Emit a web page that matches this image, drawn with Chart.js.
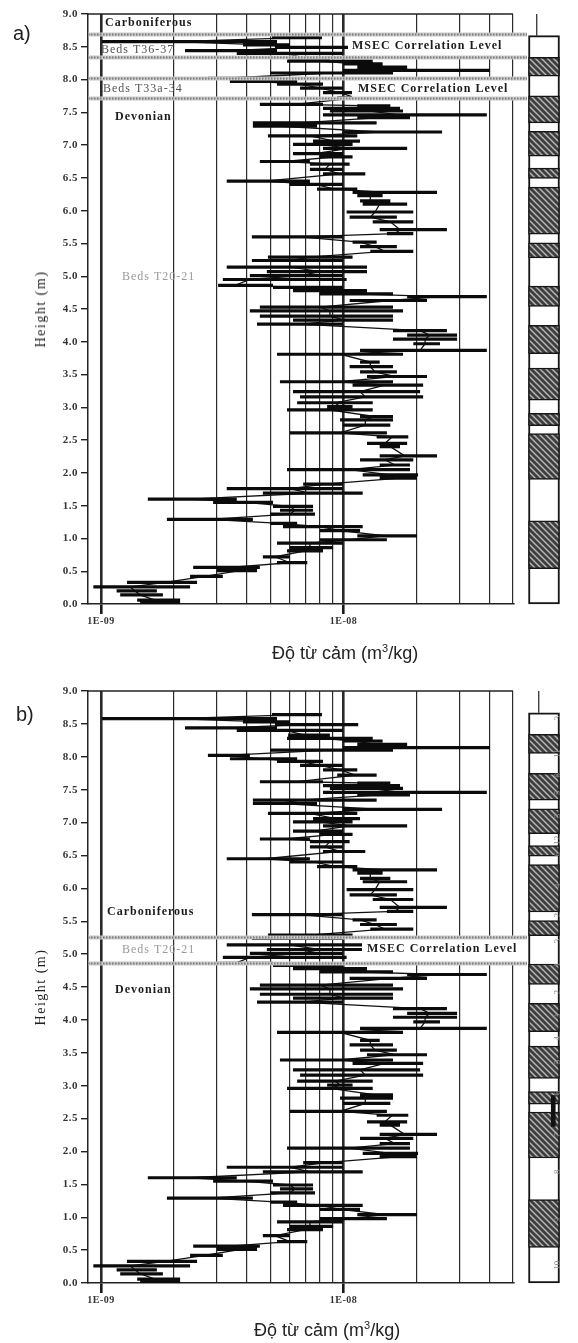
<!DOCTYPE html>
<html>
<head>
<meta charset="utf-8">
<script src="https://cdn.jsdelivr.net/npm/chart.js@4.4.0/dist/chart.umd.min.js"></script>
<style>
  html, body { margin: 0; padding: 0; background: #fff; }
  .panel { position: relative; width: 578px; overflow: hidden; }
  .panel canvas { position: absolute; top: 0; left: 0; }
  .tag { position: absolute; font: 20px "Liberation Sans", Arial, sans-serif; color: #222; line-height: 24px; }
  .ytitle { position: absolute; left: 41px; transform: translate(-50%, -50%) rotate(-90deg);
            white-space: nowrap; font: 14px "Liberation Serif", serif; letter-spacing: 1.5px; color: #222; }
  .xtitle { position: absolute; white-space: nowrap; font: 18px "Liberation Sans", Arial, sans-serif;
            line-height: 20px; color: #222; }
  .xtitle sup { font-size: 11px; }
</style>
</head>
<body>
<div class="panel" id="panelA" style="height:670px">
  <canvas id="mainA" width="578" height="670"></canvas>
  <canvas id="colA" width="65" height="670" style="left:513px"></canvas>
  <div class="tag" style="left:13px;top:21px">a)</div>
  <div class="ytitle" style="top:309px">Height (m)</div>
  <div class="xtitle" style="left:272px;top:638px">Độ từ cảm (m<sup>3</sup>/kg)</div>
</div>
<div class="panel" id="panelB" style="height:673px">
  <canvas id="mainB" width="578" height="673"></canvas>
  <canvas id="colB" width="65" height="673" style="left:513px"></canvas>
  <div class="tag" style="left:16px;top:32px">b)</div>
  <div class="ytitle" style="top:317px">Height (m)</div>
  <div class="xtitle" style="left:254px;top:645px">Độ từ cảm (m<sup>3</sup>/kg)</div>
</div>

<script>
// Magnetic susceptibility log, section height 0-9 m. Same record in both panels,
// panel a marks the upper correlation levels, panel b the T20-21 level.
// Susceptibility values are in units of 1E-09 m3/kg.

const heightM = [
  8.64, 8.58, 8.53, 8.49, 8.44, 8.40, 8.33, 8.28, 8.24, 8.19,
  8.14, 8.10, 8.02, 7.97, 7.93, 7.87, 7.80, 7.72, 7.62, 7.60,
  7.56, 7.52, 7.46, 7.42, 7.34, 7.29, 7.20, 7.14, 7.06, 7.01,
  6.95, 6.87, 6.82, 6.75, 6.71, 6.63, 6.56, 6.45, 6.40, 6.33,
  6.28, 6.23, 6.15, 6.10, 5.98, 5.90, 5.83, 5.71, 5.65, 5.60,
  5.52, 5.45, 5.38, 5.29, 5.24, 5.14, 5.07, 5.01, 4.95, 4.86,
  4.83, 4.78, 4.73, 4.69, 4.63, 4.53, 4.47, 4.39, 4.33, 4.27,
  4.17, 4.10, 4.04, 3.97, 3.87, 3.81, 3.69, 3.62, 3.54, 3.47,
  3.39, 3.34, 3.24, 3.16, 3.07, 3.01, 2.96, 2.86, 2.81, 2.73,
  2.61, 2.55, 2.45, 2.40, 2.26, 2.20, 2.12, 2.05, 1.97, 1.92,
  1.83, 1.76, 1.69, 1.60, 1.55, 1.49, 1.43, 1.37, 1.29, 1.23,
  1.18, 1.12, 1.04, 0.98, 0.93, 0.86, 0.81, 0.72, 0.63, 0.56,
  0.51, 0.42, 0.33, 0.26, 0.20, 0.14, 0.06, 0.01
];
const chiMid = [
  6.62, 2.02, 4.74, 6.62, 3.40, 5.74, 6.95, 8.00, 11.2, 13.5,
  20.7, 8.79, 3.25, 4.52, 6.62, 8.00, 9.68, 11.2, 6.31, 12.9,
  11.7, 12.9, 17.1, 14.1, 6.62, 5.47, 14.1, 7.27, 9.23, 8.00,
  10.6, 7.63, 9.23, 5.74, 8.79, 8.39, 9.68, 4.74, 7.63, 9.23,
  14.8, 12.9, 12.9, 14.1, 13.5, 12.9, 15.6, 17.1, 16.3, 6.62,
  11.7, 13.5, 14.8, 7.27, 6.01, 6.01, 8.00, 6.62, 4.11, 3.57,
  6.95, 8.79, 11.2, 25.0, 15.6, 8.00, 8.79, 8.79, 10.1, 6.62,
  20.7, 22.7, 21.7, 21.7, 20.7, 9.68, 12.9, 12.9, 13.5, 16.3,
  9.68, 14.8, 11.7, 12.3, 9.23, 9.68, 8.79, 13.5, 12.3, 12.3,
  9.68, 15.9, 14.8, 15.6, 17.9, 14.8, 16.3, 10.6, 15.6, 17.1,
  8.39, 6.01, 7.27, 2.33, 3.93, 6.01, 6.31, 6.01, 2.81, 5.47,
  8.00, 9.68, 14.8, 10.6, 7.27, 7.27, 6.95, 5.22, 6.01, 3.40,
  3.74, 2.68, 1.84, 1.32, 1.38, 1.45, 1.67, 1.75
];
const chiLow = [
  5.07, 1.01, 3.85, 5.22, 2.22, 3.63, 5.91, 5.85, 9.95, 11.4,
  9.95, 4.98, 2.76, 3.40, 5.32, 6.62, 8.23, 9.42, 4.52, 11.4,
  8.23, 8.79, 8.23, 11.4, 4.23, 4.23, 9.95, 4.88, 7.49, 6.19,
  8.23, 6.19, 8.00, 4.52, 7.27, 7.27, 8.23, 3.30, 6.01, 7.78,
  10.9, 11.4, 11.7, 12.0, 10.3, 10.6, 13.2, 14.1, 15.1, 4.19,
  10.9, 11.7, 12.9, 4.88, 4.19, 3.30, 4.83, 4.11, 3.18, 3.04,
  5.12, 6.19, 8.00, 18.3, 10.6, 4.52, 4.11, 4.52, 6.19, 4.40,
  16.0, 18.3, 16.0, 19.4, 11.7, 5.32, 11.7, 10.6, 11.7, 12.5,
  5.47, 10.9, 6.19, 6.62, 6.44, 8.56, 5.85, 11.7, 9.68, 9.95,
  6.01, 13.7, 12.5, 14.1, 14.1, 11.7, 14.1, 5.85, 12.0, 14.1,
  6.82, 3.30, 4.65, 1.56, 2.90, 5.12, 5.47, 4.98, 1.87, 4.98,
  5.63, 8.00, 11.4, 8.00, 5.32, 6.01, 5.85, 4.65, 5.32, 2.40,
  3.01, 2.33, 1.28, 0.93, 1.16, 1.20, 1.41, 1.45
];
const chiHigh = [
  8.15, 5.32, 6.01, 11.5, 5.32, 9.95, 8.79, 13.2, 14.5, 18.3,
  40.2, 16.0, 4.11, 6.44, 8.23, 9.95, 11.4, 13.7, 8.23, 15.6,
  17.1, 17.6, 39.0, 18.8, 13.7, 7.78, 25.5, 11.4, 11.7, 10.9,
  18.3, 9.95, 10.9, 7.27, 10.6, 9.95, 12.3, 7.27, 9.95, 11.4,
  24.3, 14.5, 15.6, 18.3, 19.4, 16.6, 19.4, 26.7, 19.4, 9.95,
  13.7, 16.6, 19.4, 10.9, 9.95, 12.5, 12.5, 9.95, 10.3, 5.12,
  9.95, 12.5, 16.0, 39.0, 22.1, 16.0, 17.6, 16.0, 16.0, 9.95,
  26.7, 29.4, 29.4, 25.0, 39.0, 17.6, 14.1, 16.0, 16.6, 22.1,
  16.0, 21.3, 20.7, 21.3, 13.2, 10.9, 13.2, 16.0, 16.0, 15.6,
  15.1, 18.5, 18.3, 17.1, 24.3, 19.4, 18.8, 18.8, 20.3, 20.1,
  9.95, 9.95, 12.0, 3.63, 5.12, 7.49, 7.49, 7.63, 4.23, 6.44,
  12.0, 11.7, 20.1, 15.1, 9.95, 9.06, 8.23, 6.01, 7.09, 4.52,
  4.40, 3.18, 2.49, 2.33, 1.70, 1.80, 2.12, 2.12
];

// lithology column: hatched (limestone) beds, the rest is white shale
const columnTop = 8.67;
const hatchBase = [8.05, 7.34, 6.83, 6.49, 5.64, 5.28, 4.54, 3.82, 3.11, 2.72, 1.90, 0.54];
const hatchTop  = [8.34, 7.75, 7.21, 6.65, 6.36, 5.51, 4.85, 4.25, 3.60, 2.91, 2.60, 1.27];

// bed numbers printed sideways beside the column of panel b
const bedLabels  = ["3", "11", "8", "5", "3", "12", "6", "4", "2", "3",
                    "1", "2", "3", "4", "5", "6", "7", "8", "9", "10"];
const bedHeights = [8.59, 8.05, 7.72, 7.45, 7.10, 6.73, 6.52, 6.04, 5.59, 5.20,
                    4.84, 4.42, 4.06, 3.72, 3.36, 2.89, 2.25, 1.69, 0.96, 0.27];

// x axis gridlines (log decades 1E-09 .. 5E-08)
const gridValues = [1, 2, 3, 4, 5, 6, 7, 8, 9, 10, 20, 30, 40, 50];
const majorValues = [1, 10];
const xMin = 0.884, xMax = 50;

const SERIF = '"Liberation Serif", "Times New Roman", serif';
const INK = "#1c1c1c";

const panelA = {
  top: 14, bottom: 604, height: 670, stubX: 15, marker: null,
  bands: [8.70, 8.34, 8.02, 7.72],
  boxes: [{ lo: 8.34, hi: 8.70, x0: 348, x1: 516 }, { lo: 7.72, hi: 8.02, x0: 352, x1: 516 }],
  notes: [
    { text: "Carboniferous", h: 8.86, x: 105, font: `bold 12px ${SERIF}`, color: INK },
    { text: "Beds T36-37", h: 8.46, x: 101, font: `12px ${SERIF}`, color: "#555" },
    { text: "MSEC Correlation Level", h: 8.52, x: 352, font: `bold 12px ${SERIF}`, color: INK },
    { text: "Beds T33a-34", h: 7.86, x: 103, font: `12px ${SERIF}`, color: "#555" },
    { text: "MSEC Correlation Level", h: 7.85, x: 358, font: `bold 12px ${SERIF}`, color: INK },
    { text: "Devonian", h: 7.43, x: 115, font: `bold 12px ${SERIF}`, color: INK },
    { text: "Beds T20-21", h: 4.99, x: 122, font: `12px ${SERIF}`, color: "#9a9a9a" },
  ],
};
const panelB = {
  top: 21, bottom: 613, height: 673, stubX: 19, marker: [2.38, 2.85],
  bands: [5.26, 4.86],
  boxes: [{ lo: 4.86, hi: 5.26, x0: 362, x1: 526 }],
  notes: [
    { text: "Carboniferous", h: 5.64, x: 107, font: `bold 12px ${SERIF}`, color: INK },
    { text: "Beds T20-21", h: 5.06, x: 122, font: `12px ${SERIF}`, color: "#9a9a9a" },
    { text: "MSEC Correlation Level", h: 5.08, x: 367, font: `bold 12px ${SERIF}`, color: INK },
    { text: "Devonian", h: 4.45, x: 115, font: `bold 12px ${SERIF}`, color: INK },
  ],
};

Chart.defaults.font.family = SERIF;
Chart.defaults.color = "#333";

function makeHatch() {
  const c = document.createElement("canvas");
  c.width = 6; c.height = 6;
  const g = c.getContext("2d");
  g.fillStyle = "#3e3e3e";
  g.fillRect(0, 0, 6, 6);
  g.strokeStyle = "#b4b4b4";
  g.lineWidth = 1.5;
  g.beginPath();
  g.moveTo(-1, -1); g.lineTo(7, 7);
  g.moveTo(-4, 2); g.lineTo(4, 10);
  g.moveTo(2, -4); g.lineTo(10, 4);
  g.stroke();
  return g.createPattern(c, "repeat");
}

// frame top, dotted correlation bands and the text notes
function annotations(panel) {
  return {
    id: "annotations",
    beforeDraw(chart) { chart.ctx.letterSpacing = "0.5px"; },
    afterDatasetsDraw(chart) {
      const { ctx, chartArea: a, scales: { y } } = chart;
      ctx.save();
      ctx.strokeStyle = "#222";
      ctx.lineWidth = 1.5;
      ctx.beginPath();
      ctx.moveTo(a.left, a.top); ctx.lineTo(a.right, a.top);
      ctx.stroke();

      panel.boxes.forEach(b => {
        const y0 = y.getPixelForValue(b.hi), y1 = y.getPixelForValue(b.lo);
        ctx.fillStyle = "#fff";
        ctx.fillRect(b.x0, y0, b.x1 - b.x0, y1 - y0);
      });

      panel.bands.forEach(h => {
        const py = Math.round(y.getPixelForValue(h)) + 0.5;
        ctx.setLineDash([]);
        ctx.strokeStyle = "#c9c9c9";
        ctx.lineWidth = 4;
        ctx.beginPath(); ctx.moveTo(a.left, py); ctx.lineTo(a.right + 14, py); ctx.stroke();
        ctx.setLineDash([1.5, 1.5]);
        ctx.strokeStyle = "#7c7c7c";
        ctx.lineWidth = 2;
        ctx.beginPath(); ctx.moveTo(a.left, py); ctx.lineTo(a.right + 14, py); ctx.stroke();
      });
      ctx.setLineDash([]);

      ctx.textBaseline = "middle";
      ctx.textAlign = "left";
      ctx.letterSpacing = "1px";
      panel.notes.forEach(n => {
        ctx.font = n.font;
        ctx.fillStyle = n.color;
        ctx.fillText(n.text, n.x, y.getPixelForValue(n.h));
      });
      ctx.restore();
    },
  };
}

function drawLog(canvasId, panel) {
  const isMajor = c => c.tick && majorValues.includes(c.tick.value);
  return new Chart(document.getElementById(canvasId), {
    type: "scatter",
    data: {
      datasets: [
        {
          data: heightM.map((h, i) => ({ x: chiMid[i], y: h })),
          showLine: true, borderColor: "#111", borderWidth: 1.3, pointRadius: 0, order: 2,
        },
        {
          // each sample's range as a short horizontal bar, broken by a null point
          data: heightM.flatMap((h, i) => [
            { x: chiLow[i], y: h }, { x: chiHigh[i], y: h }, { x: chiHigh[i], y: null },
          ]),
          showLine: true, spanGaps: false, borderColor: "#0b0b0b", borderWidth: 3.2,
          pointRadius: 0, order: 1,
        },
      ],
    },
    options: {
      responsive: false,
      animation: false,
      events: [],
      layout: { padding: { top: panel.top, right: 578 - 513, left: 0, bottom: 0 } },
      plugins: { legend: { display: false }, tooltip: { enabled: false } },
      scales: {
        x: {
          type: "logarithmic",
          min: xMin,
          max: xMax,
          afterBuildTicks: s => { s.ticks = gridValues.map(v => ({ value: v })); },
          afterFit: s => { s.height = panel.height - panel.bottom; },
          grid: {
            color: "#2a2a2a",
            lineWidth: c => (isMajor(c) ? 2.6 : 1.2),
            drawTicks: true,
            tickLength: 10,
            tickColor: c => (isMajor(c) ? "#1a1a1a" : "rgba(0,0,0,0)"),
          },
          border: { display: true, color: "#222", width: 1.5 },
          ticks: {
            autoSkip: false,
            maxRotation: 0,
            padding: 1,
            color: "#333",
            font: { family: SERIF, size: 10, weight: "bold" },
            callback: v => (v === 1 ? "1E-09" : v === 10 ? "1E-08" : ""),
          },
        },
        y: {
          min: 0,
          max: 9,
          afterFit: s => { s.width = 88; },
          grid: { drawOnChartArea: false, drawTicks: true, tickLength: 7, color: "#222", lineWidth: 1.4 },
          border: { display: true, color: "#222", width: 1.5 },
          ticks: {
            stepSize: 0.5,
            autoSkip: false,
            padding: 3,
            color: "#333",
            font: { family: SERIF, size: 11, weight: "bold" },
            callback: v => v.toFixed(1),
          },
        },
      },
    },
    plugins: [annotations(panel)],
  });
}

function drawColumn(canvasId, panel, hatch, withBeds) {
  const colX = 29.5;
  const datasets = [
    {
      type: "bar",
      data: hatchBase.map((b, i) => ({ x: colX, y: [b, hatchTop[i]] })),
      backgroundColor: hatch, borderColor: "#161616", borderWidth: 1.5,
      borderSkipped: false, barThickness: 31, grouped: false, clip: 6, order: 1,
    },
    {
      type: "bar",
      data: [{ x: colX, y: [0, columnTop] }],
      backgroundColor: "#fff", borderColor: "#161616", borderWidth: 2,
      borderSkipped: false, barThickness: 31, grouped: false, clip: 6, order: 3,
    },
    {
      type: "line",
      data: [{ x: panel.stubX, y: columnTop }, { x: panel.stubX, y: 9 }],
      borderColor: "#222", borderWidth: 1.2, pointRadius: 0, clip: 6, order: 0,
    },
  ];
  if (panel.marker) {
    datasets.push({
      type: "bar",
      data: [{ x: 48, y: panel.marker }],
      backgroundColor: "#111", barThickness: 4, grouped: false, clip: 6, order: 0,
    });
  }
  const beds = {
    id: "beds",
    afterDatasetsDraw(chart) {
      if (!withBeds) return;
      const { ctx, scales: { x, y } } = chart;
      ctx.save();
      ctx.font = `9px ${SERIF}`;
      ctx.fillStyle = "#8a8a8a";
      ctx.textAlign = "center";
      ctx.textBaseline = "middle";
      bedLabels.forEach((t, i) => {
        ctx.save();
        ctx.translate(x.getPixelForValue(56), y.getPixelForValue(bedHeights[i]));
        ctx.rotate(-Math.PI / 2);
        ctx.fillText(t, 0, 0);
        ctx.restore();
      });
      ctx.restore();
    },
  };
  return new Chart(document.getElementById(canvasId), {
    type: "bar",
    data: { datasets },
    options: {
      responsive: false,
      animation: false,
      events: [],
      layout: { padding: { top: panel.top, bottom: panel.height - panel.bottom, left: 0, right: 0 } },
      plugins: { legend: { display: false }, tooltip: { enabled: false } },
      scales: {
        x: { type: "linear", min: 0, max: 65, display: false },
        y: { min: 0, max: 9, display: false },
      },
    },
    plugins: [beds],
  });
}

const hatch = makeHatch();
drawLog("mainA", panelA);
drawColumn("colA", panelA, hatch, false);
drawLog("mainB", panelB);
drawColumn("colB", panelB, hatch, true);
</script>
</body>
</html>
